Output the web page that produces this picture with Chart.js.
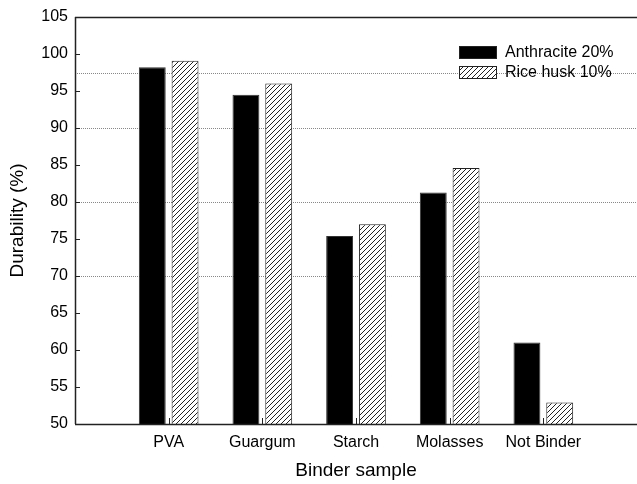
<!DOCTYPE html>
<html>
<head>
<meta charset="utf-8">
<script src="https://cdn.jsdelivr.net/npm/chart.js@4.4.1/dist/chart.umd.min.js"></script>
<style>
  html, body { margin: 0; padding: 0; background: #fff; }
  #wrap { width: 637px; height: 484px; }
</style>
</head>
<body>
<div id="wrap"><canvas id="durabilityChart" width="637" height="484"></canvas></div>
<script>
let binders = ["PVA", "Guargum", "Starch", "Molasses", "Not Binder"];
let anthracite = [98.2, 94.5, 75.4, 81.3, 61.0];
let riceHusk = [99.1, 96.0, 77.0, 84.6, 52.9];
let yTicks = [50, 55, 60, 65, 70, 75, 80, 85, 90, 95, 100, 105];
let gridValues = [70, 80, 90, 97.5];

// one empty slot either side, like the original plot
let labels = [""].concat(binders, [""]);
let pad = (arr) => [null].concat(arr, [null]);

function makeHatch() {
  let c = document.createElement("canvas");
  c.width = 5;
  c.height = 5;
  let g = c.getContext("2d");
  g.fillStyle = "#fff";
  g.fillRect(0, 0, 5, 5);
  g.strokeStyle = "#222";
  g.lineWidth = 1;
  g.beginPath();
  g.moveTo(-1, 6); g.lineTo(6, -1);
  g.moveTo(-1, 1); g.lineTo(1, -1);
  g.moveTo(4, 6); g.lineTo(6, 4);
  g.stroke();
  return document.getElementById("durabilityChart").getContext("2d").createPattern(c, "repeat");
}
let hatch = makeHatch();

// frame, inward ticks, dotted grid and the boxed legend
let framePlugin = {
  id: "frame",
  beforeDatasetsDraw(chart) {
    let ctx = chart.ctx, a = chart.chartArea, y = chart.scales.y;
    ctx.save();
    ctx.strokeStyle = "#888";
    ctx.lineWidth = 1;
    ctx.setLineDash([1, 1]);
    gridValues.forEach(v => {
      let py = Math.round(y.getPixelForValue(v)) + 0.5;
      ctx.beginPath();
      ctx.moveTo(a.left, py);
      ctx.lineTo(a.right, py);
      ctx.stroke();
    });
    ctx.restore();
  },
  afterDatasetsDraw(chart) {
    let ctx = chart.ctx, a = chart.chartArea, x = chart.scales.x, y = chart.scales.y;
    ctx.save();
    ctx.strokeStyle = "#222";
    ctx.lineWidth = 1.5;
    ctx.beginPath();
    ctx.moveTo(a.left, a.top + 0.5);
    ctx.lineTo(a.right, a.top + 0.5);
    ctx.moveTo(a.left + 0.5, a.top);
    ctx.lineTo(a.left + 0.5, a.bottom);
    ctx.moveTo(a.left, a.bottom + 0.5);
    ctx.lineTo(a.right, a.bottom + 0.5);
    ctx.stroke();
    ctx.lineWidth = 1;
    ctx.beginPath();
    yTicks.forEach(v => {
      let py = Math.round(y.getPixelForValue(v)) + 0.5;
      ctx.moveTo(a.left, py);
      ctx.lineTo(a.left + 5, py);
    });
    binders.forEach((b, i) => {
      let px = Math.round(x.getPixelForValue(i + 1)) + 0.5;
      ctx.moveTo(px, a.bottom);
      ctx.lineTo(px, a.bottom - 6);
    });
    ctx.stroke();

    // legend
    let lx = 459, ly = 46;
    ctx.font = "16px 'Liberation Sans', Arial, sans-serif";
    ctx.textBaseline = "middle";
    chart.data.datasets.forEach((ds, i) => {
      let by = ly + i * 20;
      ctx.fillStyle = ds.backgroundColor;
      ctx.fillRect(lx, by, 37, 12);
      ctx.strokeStyle = "#222";
      ctx.strokeRect(lx + 0.5, by + 0.5, 37, 12);
      ctx.fillStyle = "#000";
      ctx.fillText(ds.label, lx + 46, by + 7);
    });
    ctx.restore();
  }
};

Chart.defaults.font.family = "'Liberation Sans', Arial, sans-serif";
Chart.defaults.color = "#000";

let durabilityChart = new Chart(document.getElementById("durabilityChart").getContext("2d"), {
  type: "bar",
  data: {
    labels: labels,
    datasets: [
      {
        label: "Anthracite 20%",
        data: pad(anthracite),
        backgroundColor: "#000",
        borderColor: "#333",
        borderWidth: 1,
      },
      {
        label: "Rice husk 10%",
        data: pad(riceHusk),
        backgroundColor: hatch,
        borderColor: "#222",
        borderWidth: 1,
      },
    ],
  },
  options: {
    responsive: false,
    animation: false,
    layout: { padding: { left: 2, right: -2, top: 17, bottom: 0 } },
    plugins: {
      legend: { display: false },
      tooltip: { enabled: false },
    },
    datasets: {
      bar: { categoryPercentage: 0.7, barPercentage: 0.82 },
    },
    scales: {
      x: {
        offset: false,
        grid: { display: false, drawTicks: false },
        border: { display: false },
        ticks: { padding: 9, font: { size: 16 }, autoSkip: false, maxRotation: 0 },
        title: { display: true, text: "Binder sample", font: { size: 19 }, padding: { top: 12, bottom: 2 } },
        afterFit(scale) {
          scale.height = 60;
          scale.paddingLeft = 0;
          scale.paddingRight = 0;
        },
      },
      y: {
        min: 50,
        max: 105,
        grid: { display: false, drawTicks: false },
        border: { display: false },
        afterBuildTicks(scale) { scale.ticks = yTicks.map(v => ({ value: v })); },
        ticks: { padding: 7, font: { size: 16 } },
        title: { display: true, text: "Durability (%)", font: { size: 19 }, padding: { top: 4, bottom: 0 } },
        afterFit(scale) { scale.width = 73; },
      },
    },
  },
  plugins: [framePlugin],
});
</script>
</body>
</html>
